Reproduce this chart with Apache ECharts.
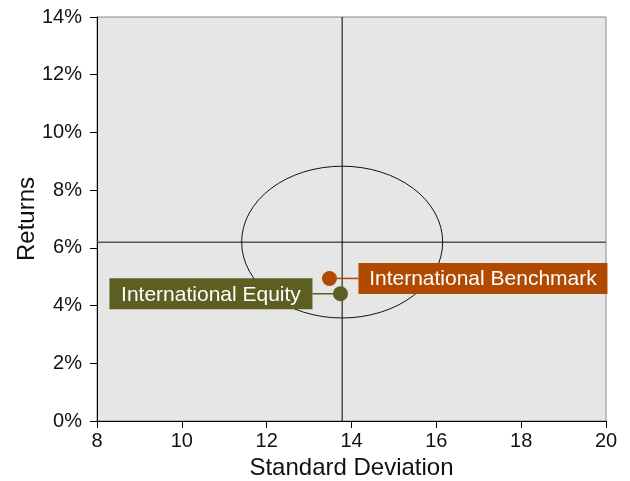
<!DOCTYPE html>
<html>
<head>
<meta charset="utf-8">
<script src="https://cdn.jsdelivr.net/npm/echarts@6/dist/echarts.min.js"></script>
<style>html,body{margin:0;padding:0;background:#fff}#c{width:630px;height:481px}</style>
</head>
<body>
<div id="c"></div>
<script>
// Data
var xTicks = [8, 10, 12, 14, 16, 18, 20];
var yTicks = [0, 2, 4, 6, 8, 10, 12, 14];
var names = ['International Benchmark', 'International Equity'];
var stdDev = [13.48, 13.74];
var returns = [4.94, 4.41];
var refX = 13.78;        // vertical reference line (std dev)
var refY = 6.19;         // horizontal reference line (return %)
var ellipse = [13.78, 6.2, 2.37, 2.63]; // center x, center y, radius x, radius y

var colors = ['#B04A00', '#5C5E22'];
var FONT = '"Liberation Sans", Arial, sans-serif';

var chart = echarts.init(document.getElementById('c'), null, {renderer: 'canvas'});

var labelData = names.map(function (n, i) { return [stdDev[i], returns[i], i]; });

chart.setOption({
  animation: false,
  textStyle: {fontFamily: FONT},
  grid: {left: 97, right: 24, top: 17, bottom: 60, outerBoundsMode: 'none', containLabel: false,
    show: true, backgroundColor: '#E6E6E6', borderColor: '#8a8a8a', borderWidth: 1},
  xAxis: {
    type: 'value', min: xTicks[0], max: xTicks[xTicks.length - 1], interval: 2,
    name: 'Standard Deviation', nameLocation: 'middle', nameGap: 35, nameMoveOverlap: false,
    nameTextStyle: {fontSize: 24, color: '#111', fontFamily: FONT},
    axisLine: {show: true, onZero: false, lineStyle: {color: '#000', width: 1}},
    axisTick: {show: true, length: 7, lineStyle: {color: '#000'}},
    axisLabel: {fontSize: 20, color: '#111', margin: 10, fontFamily: FONT},
    splitLine: {show: false}
  },
  yAxis: {
    type: 'value', min: yTicks[0], max: yTicks[yTicks.length - 1], interval: 2,
    name: 'Returns', nameLocation: 'middle', nameGap: 58, nameMoveOverlap: false,
    nameTextStyle: {fontSize: 24, color: '#111', fontFamily: FONT},
    axisLine: {show: true, onZero: false, lineStyle: {color: '#000', width: 1}},
    axisTick: {show: true, length: 7, lineStyle: {color: '#000'}},
    axisLabel: {fontSize: 20, color: '#111', margin: 15, fontFamily: FONT, formatter: '{value}%'},
    splitLine: {show: false}
  },
  series: [
    {
      type: 'line', data: [[xTicks[0], refY], [xTicks[xTicks.length - 1], refY]],
      symbol: 'none', silent: true, lineStyle: {color: '#555', width: 1.5}, z: 2
    },
    {
      type: 'line', data: [[refX, yTicks[0]], [refX, yTicks[yTicks.length - 1]]],
      symbol: 'none', silent: true, lineStyle: {color: '#000', width: 1}, z: 2
    },
    {
      type: 'custom', silent: true, z: 3,
      data: [ellipse],
      renderItem: function (params, api) {
        var c = api.coord([api.value(0), api.value(1)]);
        var r = api.coord([api.value(0) + api.value(2), api.value(1) + api.value(3)]);
        var rx = r[0] - c[0], ry = c[1] - r[1];
        var d = 'M' + (c[0] - rx) + ' ' + c[1] +
          ' A' + rx + ' ' + ry + ' 0 1 0 ' + (c[0] + rx) + ' ' + c[1] +
          ' A' + rx + ' ' + ry + ' 0 1 0 ' + (c[0] - rx) + ' ' + c[1] + ' Z';
        return {type: 'path', shape: {pathData: d}, style: {fill: null, stroke: '#111', lineWidth: 1}};
      }
    },
    {
      type: 'custom', silent: true, z: 5,
      data: labelData,
      renderItem: function (params, api) {
        var i = api.value(2);
        var p = api.coord([api.value(0), api.value(1)]);
        var col = colors[i];
        var children = [];
        var bx, bw = i === 0 ? 249 : 203, bh = 31;
        if (i === 0) { bx = p[0] + 29; } else { bx = p[0] - 28 - bw; }
        var lx1 = i === 0 ? p[0] : bx + bw;
        var lx2 = i === 0 ? bx : p[0];
        children.push({type: 'line', shape: {x1: lx1, y1: p[1], x2: lx2, y2: p[1]}, style: {stroke: col, lineWidth: 1.5}});
        children.push({type: 'rect', shape: {x: bx, y: p[1] - bh / 2, width: bw, height: bh}, style: {fill: col}});
        children.push({type: 'text', style: {text: names[i], x: bx + bw / 2, y: p[1] + 1, align: 'center', verticalAlign: 'middle', fill: '#fff', font: '21px ' + FONT}});
        children.push({type: 'circle', shape: {cx: p[0], cy: p[1], r: 7.5}, style: {fill: col}});
        return {type: 'group', children: children};
      }
    }
  ]
});
</script>
</body>
</html>
